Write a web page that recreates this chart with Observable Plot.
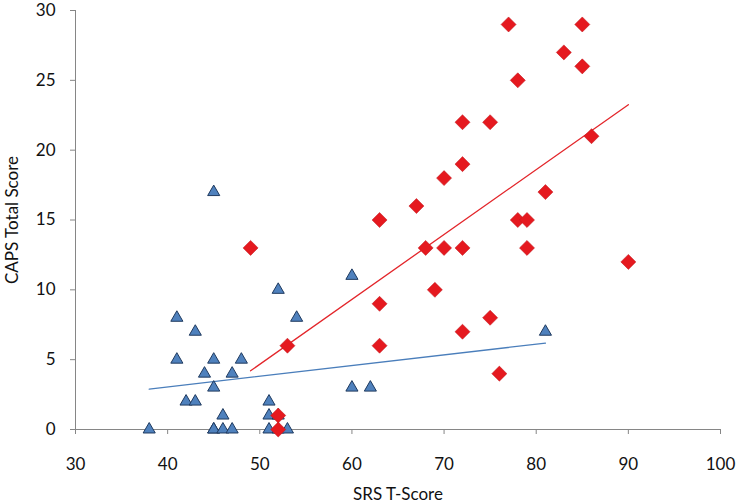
<!DOCTYPE html>
<html><head><meta charset="utf-8">
<script src="https://cdn.jsdelivr.net/npm/d3@7"></script>
<script src="https://cdn.jsdelivr.net/npm/@observablehq/plot@0.6"></script>
<style>body{margin:0;background:#fff}</style>
</head><body><div id="chart"></div>
<script>
// Group 1 (blue triangles); some points overlap (e.g. under the red diamond at 52,0)
const blueX = [38,41,41,42,43,43,44,45,45,45,45,45,46,46,47,47,48,51,51,51,52,52,52,53,54,60,60,62,81];
const blueY = [0,8,5,2,2,7,4,17,5,3,0,0,1,0,4,0,5,2,1,0,10,1,0,0,8,11,3,3,7];
// Group 2 (red diamonds)
const redX = [77,85,83,85,78,72,75,86,72,70,81,67,63,78,79,68,70,72,79,90,69,63,75,72,63,76,49,53,52,52];
const redY = [29,29,27,26,25,22,22,21,19,18,17,16,15,15,15,13,13,13,13,12,10,9,8,7,6,4,13,6,1,0];
const xTicks = [30,40,50,60,70,80,90,100];
const yTicks = [0,5,10,15,20,25,30];
const xTitle = "SRS T-Score";
const yTitle = "CAPS Total Score";

const blue = blueX.map((x,i)=>({x, y: blueY[i]}));
const red = redX.map((x,i)=>({x, y: redY[i]}));

const chart = Plot.plot({
  width: 740, height: 502,
  marginLeft: 75, marginRight: 20, marginTop: 10, marginBottom: 73,
  style: {fontFamily: "Lato, 'Open Sans', sans-serif", fontSize: "17px", background: "#fff", color: "#000"},
  x: {domain: [30, 100]},
  y: {domain: [0, 30]},
  marks: [
    Plot.axisX({ticks: xTicks, tickSize: 5, tickPadding: 23, stroke: "#868686", fill: "#111", fontSize: 17,
      label: xTitle, labelAnchor: "center", labelOffset: 70, labelArrow: "none", fontSize: 17}),
    Plot.axisY({ticks: yTicks, tickSize: 5, tickPadding: 15, stroke: "#868686", fill: "#111", fontSize: 17,
      label: yTitle, labelAnchor: "center", labelOffset: 70, labelArrow: "none"}),
    Plot.ruleY([0], {stroke: "#868686"}),
    Plot.ruleX([30], {stroke: "#868686"}),
    Plot.linearRegressionY(blue, {x: "x", y: "y", stroke: "#4a7ebb", strokeWidth: 1.3, ci: 0}),
    Plot.linearRegressionY(red, {x: "x", y: "y", stroke: "#e3262b", strokeWidth: 1.3, ci: 0}),
    Plot.dot(blue, {x: "x", y: "y", symbol: "triangle", r: 4.5, fill: "#4f81bd", stroke: "#1f3a5f", strokeWidth: 1}),
    Plot.dot(red, {x: "x", y: "y", symbol: "square", r: 6, rotate: 45, fill: "#e5191f", stroke: "#c0171c", strokeWidth: 0.5})
  ]
});
document.getElementById("chart").appendChild(chart);
</script>
</body></html>
